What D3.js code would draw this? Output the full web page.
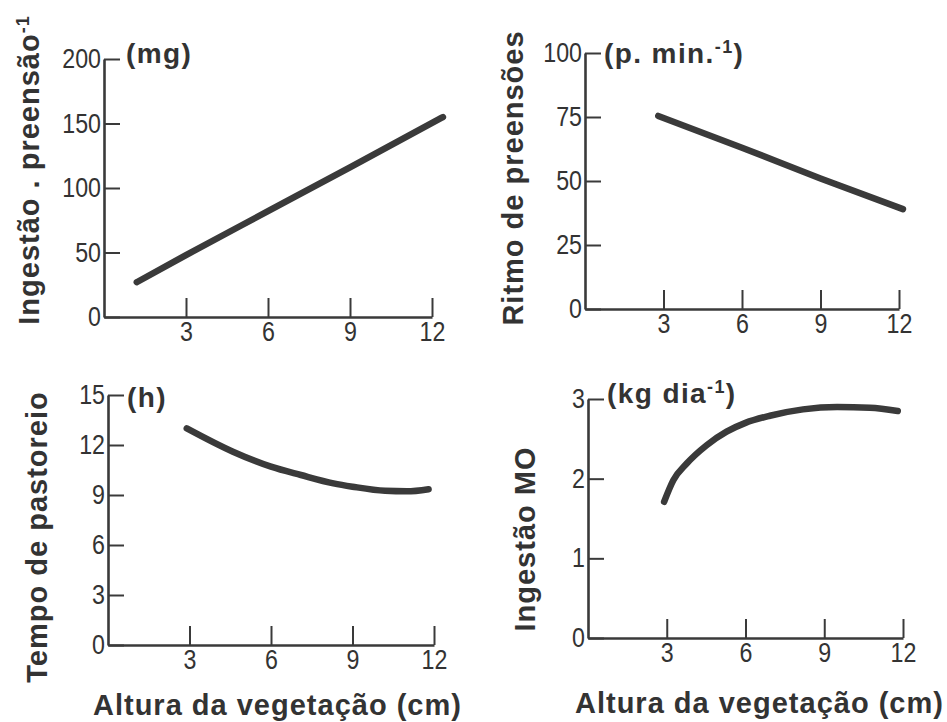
<!DOCTYPE html>
<html>
<head>
<meta charset="utf-8">
<script src="https://cdn.jsdelivr.net/npm/d3@7"></script>
<style>
  html, body { margin: 0; padding: 0; background: #fff; }
  svg { display: block; }
  .tick text { font-family: "Liberation Sans", Arial, sans-serif; font-size: 27px; fill: #333; }
  .title { font-family: "Liberation Sans", Arial, sans-serif; font-weight: bold; font-size: 29px; fill: #333; letter-spacing: 1px; }
  .unit { font-family: "Liberation Sans", Arial, sans-serif; font-weight: bold; font-size: 28px; fill: #333; letter-spacing: 1.4px; }
</style>
</head>
<body>
<svg id="chart" width="947" height="722"></svg>
<script>
// Shared x axis: vegetation height (cm)
const xTicks = [3, 6, 9, 12];

// Intake per bite (mg)
const biteHeight = [1.2, 3, 6, 9, 12.4];
const biteIntake = [27, 48, 82, 116, 155];
const biteTicks = [0, 50, 100, 150, 200];

// Biting rate (bites per minute)
const rateHeight = [2.8, 6, 9, 12.15];
const rateValue = [75.4, 63, 51, 39];
const rateTicks = [0, 25, 50, 75, 100];

// Grazing time (h)
const grazeHeight = [2.9, 4.6, 6, 7.1, 8.3, 9, 10.2, 11.0, 11.8];
const grazeTime = [13.0, 11.6, 10.7, 10.2, 9.7, 9.5, 9.25, 9.22, 9.35];
const grazeTicks = [0, 3, 6, 9, 12, 15];

// Organic matter intake (kg per day)
const omHeight = [2.9, 3.25, 3.76, 4.52, 5.28, 6.0, 6.93, 8.19, 9.49, 10.74, 11.8];
const omIntake = [1.71, 1.98, 2.19, 2.42, 2.59, 2.70, 2.79, 2.87, 2.90, 2.89, 2.85];
const omTicks = [0, 1, 2, 3];

const svg = d3.select("#chart");
const ink = "#3a3a3a";
const squeeze = 0.86; // narrow the tick digits

const panels = [
  { xs: biteHeight, ys: biteIntake, ticks: biteTicks, yMax: 200,
    xr: [104, 432], yr: [317, 59],
    title: ["Ingestão . preensão", "-1"], tx: 39, ty: 170,
    unit: ["(mg)"], ux: 126, uy: 63 },
  { xs: rateHeight, ys: rateValue, ticks: rateTicks, yMax: 100,
    xr: [585, 899], yr: [309, 53],
    title: ["Ritmo de preensões"], tx: 523, ty: 178,
    unit: ["(p. min.", "-1", ")"], ux: 604, uy: 63 },
  { xs: grazeHeight, ys: grazeTime, ticks: grazeTicks, yMax: 15,
    xr: [108, 434], yr: [645, 395],
    title: ["Tempo de pastoreio"], tx: 47, ty: 537,
    unit: ["(h)"], ux: 127, uy: 407 },
  { xs: omHeight, ys: omIntake, ticks: omTicks, yMax: 3,
    xr: [588, 903], yr: [638, 399],
    title: ["Ingestão MO"], tx: 535, ty: 539,
    unit: ["(kg dia", "-1", ")"], ux: 607, uy: 403 }
];

function addParts(textSel, parts) {
  parts.forEach((p, i) => {
    const sup = (i % 2 === 1);
    textSel.append("tspan")
      .attr("baseline-shift", sup ? "super" : null)
      .style("font-size", sup ? "18px" : null)
      .text(p);
  });
}

panels.forEach(p => {
  const x = d3.scaleLinear().domain([0, 12]).range(p.xr);
  const y = d3.scaleLinear().domain([0, p.yMax]).range(p.yr);
  const g = svg.append("g");

  const xAxis = d3.axisBottom(x).tickValues(xTicks).tickFormat(d3.format("d"))
    .tickSizeInner(-19).tickSizeOuter(0).tickPadding(5);
  const gx = g.append("g").attr("transform", `translate(0,${p.yr[0]})`).call(xAxis);

  const yAxis = d3.axisLeft(y).tickValues(p.ticks).tickFormat(d3.format("d"))
    .tickSizeInner(-16).tickSizeOuter(0).tickPadding(3);
  const gy = g.append("g").attr("transform", `translate(${p.xr[0]},0)`).call(yAxis);

  [gx, gy].forEach(a => {
    a.select(".domain").attr("stroke", ink).attr("stroke-width", 2.6);
    a.selectAll(".tick line").attr("stroke", ink).attr("stroke-width", 2);
    a.selectAll(".tick text").each(function () {
      const el = d3.select(this);
      const x0 = +el.attr("x") || 0;
      el.attr("x", x0 / squeeze).attr("transform", `scale(${squeeze},1)`);
    });
  });

  const pts = p.xs.map((v, i) => [v, p.ys[i]]);
  g.append("path")
    .datum(pts)
    .attr("fill", "none")
    .attr("stroke", ink)
    .attr("stroke-width", 6.5)
    .attr("stroke-linecap", "round")
    .attr("stroke-linejoin", "round")
    .attr("d", d3.line().x(d => x(d[0])).y(d => y(d[1])).curve(d3.curveMonotoneX));

  const t = g.append("text").attr("class", "title")
    .attr("text-anchor", "middle")
    .attr("transform", `translate(${p.tx},${p.ty}) rotate(-90)`);
  addParts(t, p.title);

  const u = g.append("text").attr("class", "unit")
    .attr("x", p.ux).attr("y", p.uy);
  addParts(u, p.unit);
});

// Shared x-axis titles under the bottom row
[[93, 715], [575, 713]].forEach(([lx, ly]) => {
  svg.append("text").attr("class", "title")
    .attr("x", lx).attr("y", ly)
    .text("Altura da vegetação (cm)");
});
</script>
</body>
</html>
